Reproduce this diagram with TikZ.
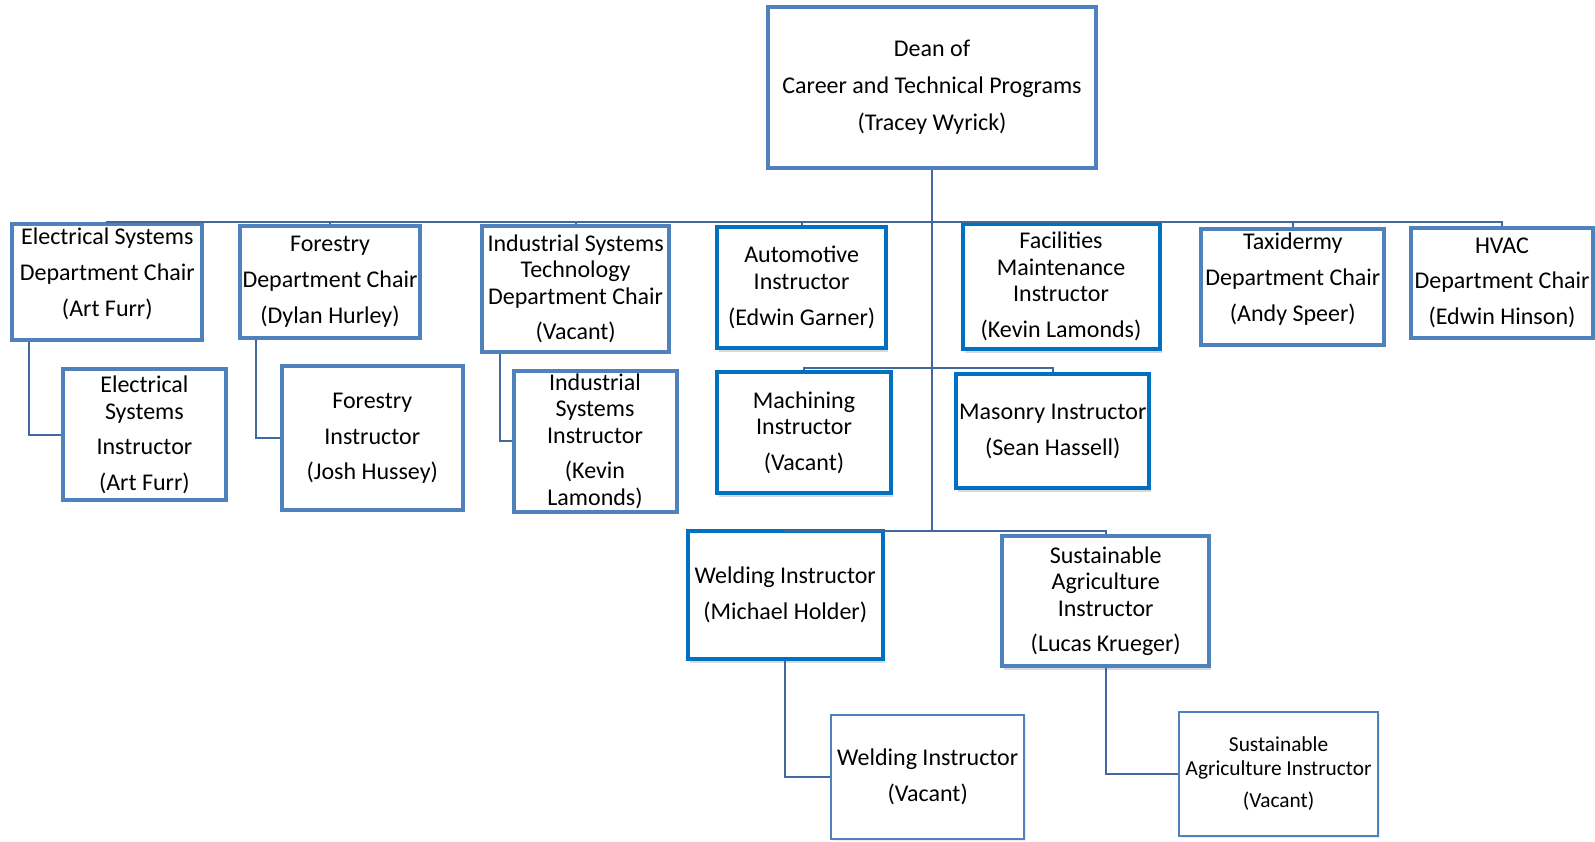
\documentclass[tikz,border=0pt]{standalone}
\usepackage{fontspec}
\setmainfont{Carlito}
\usetikzlibrary{calc,shadows}
\definecolor{steel}{HTML}{4F81BD}
\definecolor{bright}{HTML}{0070C0}
\definecolor{wire}{HTML}{4169A0}

\begin{document}
\begin{tikzpicture}[x=0.75pt,y=-0.75pt,
    post/.style={rectangle, draw=steel, line width=3pt, fill=white, align=center,
      inner sep=1pt, font=\fontsize{18}{19.8}\selectfont},
    shade/.style={drop shadow={shadow xshift=1.5pt, shadow yshift=-3pt, opacity=0.3}},
    hot/.style={post, draw=bright, shade},
    vac/.style={post, line width=1.5pt, drop shadow={shadow xshift=1.5pt, shadow yshift=-1.5pt, opacity=0.15}},
    sz/.style 2 args={minimum width=#1*0.75pt, minimum height=#2*0.75pt},
    link/.style={draw=wire, line width=1.5pt}]
  \useasboundingbox (0,0) rectangle (1595,842);
  % dean
  \node[post, sz={328}{161}] (dean) at (932,87.5) {Dean of\\[8pt] Career and Technical Programs\\[8pt] (Tracey Wyrick)};
  % first row
  \node[post, sz={190}{116}] (esch) at (107.3,281.8) {Electrical Systems\\[7pt] Department Chair\\[7pt] (Art Furr)\\[-5pt]\mbox{}};
  \node[post, sz={180}{112}] (forch) at (330,281.8) {Forestry\\[7pt] Department Chair\\[7pt] (Dylan Hurley)};
  \node[post, sz={187}{126}] (istch) at (575.6,289) {Industrial Systems\\ Technology\\ Department Chair\\[7pt] (Vacant)};
  \node[hot, sz={169}{121}] (auto) at (801.6,287.4) {Automotive\\ Instructor\\[7pt] (Edwin Garner)};
  \node[hot, sz={197}{125}] (facil) at (1061,286.4) {Facilities\\ Maintenance\\ Instructor\\[7pt] (Kevin Lamonds)};
  \node[post, sz={183}{116}] (taxi) at (1292.8,286.8) {Taxidermy\\[7pt] Department Chair\\[7pt] (Andy Speer)\\[-5pt]\mbox{}};
  \node[post, sz={182}{110}] (hvac) at (1502,282.8) {HVAC\\[7pt] Department Chair\\[7pt] (Edwin Hinson)};
  % second row
  \node[post, sz={163}{131}] (esin) at (144.4,434.9) {Electrical\\ Systems\\[7pt] Instructor\\[7pt] (Art Furr)};
  \node[post, sz={181}{144}] (forin) at (372.3,438.4) {Forestry\\[7pt] Instructor\\[7pt] (Josh Hussey)};
  \node[post, sz={163}{141}] (isin) at (595,441) {Industrial\\ Systems\\ Instructor\\[7pt] (Kevin\\ Lamonds)};
  \node[hot, sz={174}{121}] (mach) at (804,432.8) {Machining\\ Instructor\\[7pt] (Vacant)};
  \node[hot, sz={193}{114}] (mason) at (1052.8,431.3) {Masonry Instructor\\[7pt] (Sean Hassell)};
  % third row
  \node[hot, sz={195}{128}] (weld) at (785.3,595) {Welding Instructor\\[7pt] (Michael Holder)};
  \node[post, shade, sz={207}{130}] (sag) at (1105.7,601.2) {Sustainable\\ Agriculture\\ Instructor\\[7pt] (Lucas Krueger)};
  % vacant
  \node[vac, sz={193}{124}] (weldv) at (927.7,777) {Welding Instructor\\[7pt] (Vacant)};
  \node[vac, sz={199}{124}, font=\fontsize{16}{17.6}\selectfont] (sagv) at (1278.6,774) {Sustainable\\ Agriculture Instructor\\[6.8pt] (Vacant)};

  \coordinate (bus) at (932,221.7);
  \coordinate (mbus) at (932,368.2);
  \coordinate (wbus) at (932,531);
  \draw[link] (dean.south) -- (wbus);
  \foreach \b in {esch,forch,istch,auto,facil,taxi,hvac}
    \draw[link] (bus) -| (\b.north);
  \foreach \b in {mach,mason}
    \draw[link] (mbus) -| (\b.north);
  \foreach \b in {weld,sag}
    \draw[link] (wbus) -| (\b.north);
  \draw[link] ($(esch.south west)+(19,0)$) |- (esin.west);
  \draw[link] ($(forch.south west)+(18,0)$) |- (forin.west);
  \draw[link] ($(istch.south west)+(19.5,0)$) |- (isin.west);
  \draw[link] (weld.south) |- (weldv.west);
  \draw[link] (sag.south) |- (sagv.west);
\end{tikzpicture}
\end{document}
